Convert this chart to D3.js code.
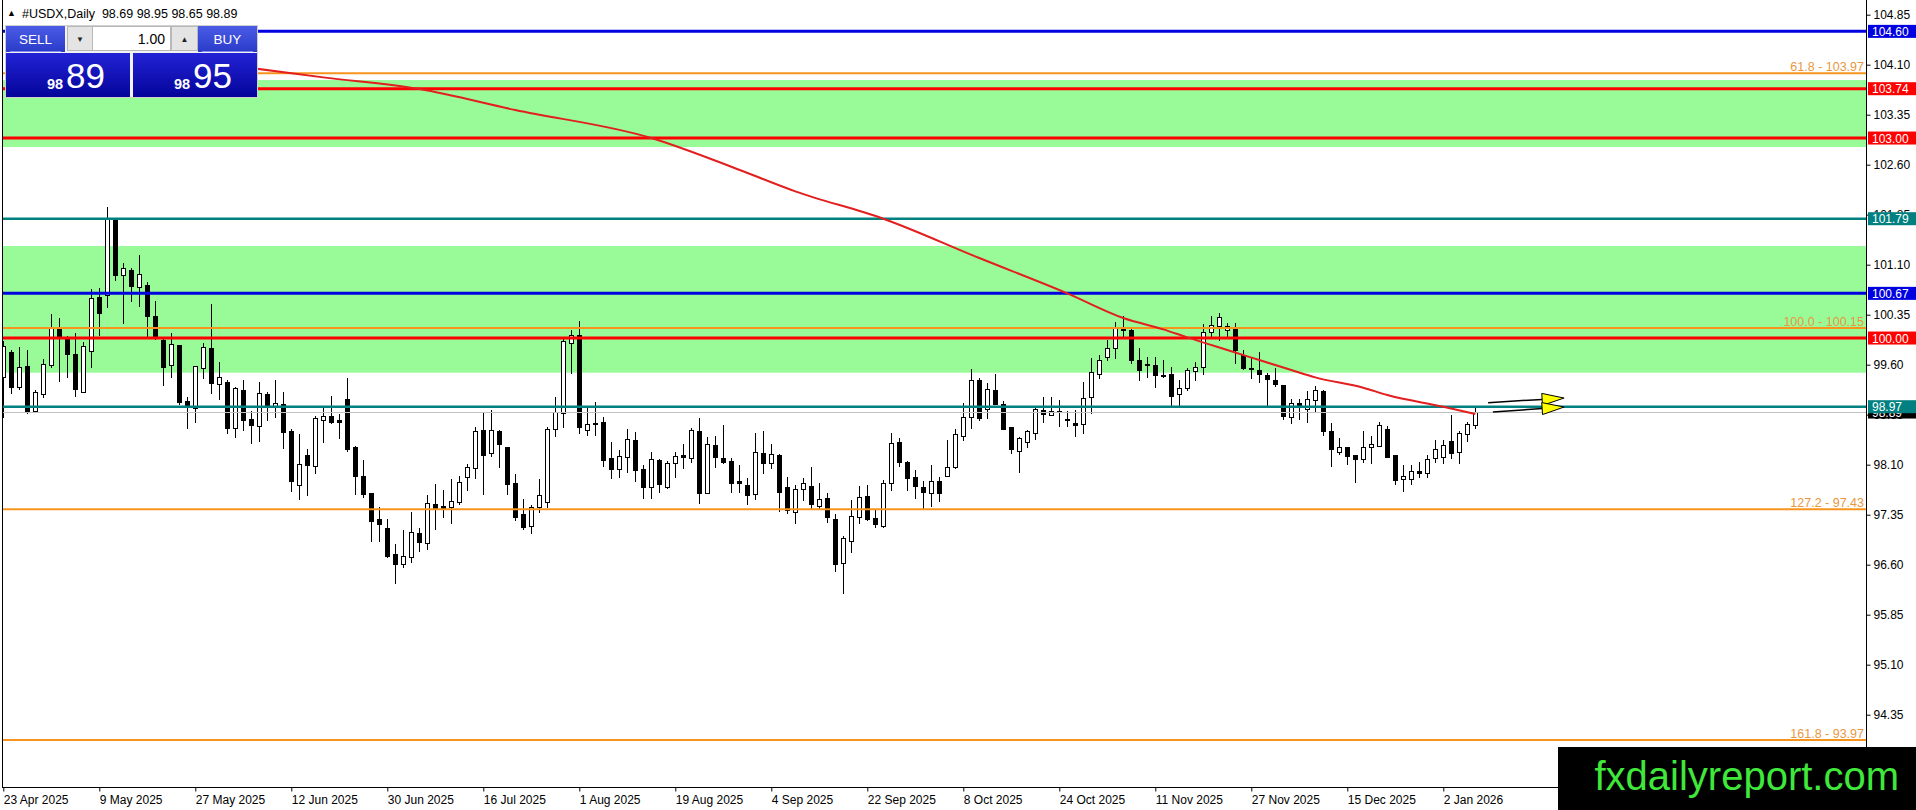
<!DOCTYPE html>
<html lang="en">
<head>
<meta charset="UTF-8">
<title>#USDX,Daily</title>
<script src="https://d3js.org/d3.v7.min.js"></script>
<style>
  html, body { margin: 0; padding: 0; background: #fff; overflow: hidden; }
  svg { display: block; font-family: "Liberation Sans", Arial, sans-serif; }
</style>
</head>
<body>
<svg id="chart"></svg>
<script>
// ---- data (daily bars, 23 Apr 2025 .. 8 Jan 2026) ----
const opens = [
  99.42, 99.795, 99.26, 99.585, 98.91, 99.155, 99.595, 100.145, 99.98, 99.76,
  99.195, 99.81, 100.62, 100.645, 101.78, 100.94, 101.02, 100.77, 100.795, 100.33,
  99.97, 99.59, 99.895, 99.055, 98.945, 99.545, 99.845, 99.305, 99.335, 98.655,
  99.22, 98.785, 98.685, 99.16, 98.97, 99.01, 98.61, 97.795, 98.245, 98.085,
  98.77, 98.83, 98.77, 99.085, 98.36, 97.93, 97.67, 97.285, 97.145, 96.755,
  96.605, 96.72, 97.07, 96.92, 97.505, 97.48, 97.46, 97.545, 97.92, 98.055,
  98.62, 98.27, 98.605, 98.36, 97.82, 97.36, 97.185, 97.47, 97.545, 98.63,
  98.87, 99.92, 100.05, 98.62, 98.72, 98.735, 98.195, 98.035, 98.21, 98.47,
  98.03, 97.76, 98.17, 97.76, 98.12, 98.245, 98.195, 98.605, 97.67, 98.39,
  98.195, 98.155, 97.85, 97.795, 97.66, 98.27, 98.12, 98.245, 97.76, 97.395,
  97.73, 97.78, 97.485, 97.595, 97.285, 96.62, 96.96, 97.31, 97.63, 97.295,
  97.185, 97.82, 98.44, 98.135, 97.91, 97.76, 97.68, 97.855, 97.935, 98.07,
  98.535, 98.81, 99.37, 98.93, 99.22, 99.01, 98.66, 98.31, 98.445, 98.57,
  98.92, 98.845, 98.91, 98.78, 98.73, 98.705, 99.11, 99.46, 99.72, 99.845,
  100.13, 100.12, 99.67, 99.61, 99.595, 99.445, 99.46, 99.155, 99.245, 99.505,
  99.57, 100.085, 100.18, 100.12, 100.13, 99.745, 99.545, 99.52, 99.445, 99.37,
  99.295, 98.82, 99.02, 98.93, 99.07, 99.21, 98.605, 98.295, 98.37, 98.245,
  98.18, 98.36, 98.385, 98.635, 98.245, 97.88, 97.88, 98.01, 97.98, 98.195,
  98.21, 98.455, 98.295, 98.555, 98.69
];
const highs = [
  99.95, 99.82, 99.87, 99.82, 99.22, 99.68, 100.36, 100.30, 100.03, 100.07,
  99.94, 100.73, 100.745, 101.97, 101.80, 101.13, 101.045, 101.245, 100.845, 100.555,
  99.99, 100.08, 99.90, 99.12, 99.58, 99.93, 100.51, 99.635, 99.37, 99.27,
  99.37, 98.91, 99.335, 99.195, 99.37, 99.185, 98.63, 98.56, 98.335, 98.835,
  98.945, 99.13, 98.86, 99.395, 98.38, 98.17, 97.67, 97.46, 97.285, 96.91,
  97.12, 97.385, 97.145, 97.645, 97.81, 97.72, 97.88, 97.93, 98.11, 98.66,
  98.88, 98.92, 98.62, 98.37, 97.96, 97.58, 97.495, 97.88, 98.66, 99.11,
  100.0, 100.12, 100.25, 98.97, 99.045, 98.82, 98.435, 98.32, 98.635, 98.585,
  98.095, 98.29, 98.18, 98.155, 98.285, 98.41, 98.645, 98.795, 98.51, 98.53,
  98.695, 98.205, 98.095, 97.895, 98.57, 98.605, 98.405, 98.255, 97.91, 97.795,
  97.895, 98.07, 97.82, 97.67, 97.36, 97.03, 97.57, 97.785, 97.795, 97.43,
  97.87, 98.57, 98.495, 98.16, 98.02, 97.855, 98.095, 97.92, 98.47, 98.63,
  99.03, 99.535, 99.395, 99.32, 99.46, 99.055, 98.66, 98.51, 98.62, 98.945,
  99.11, 99.11, 99.07, 98.905, 98.92, 99.335, 99.695, 99.74, 99.97, 100.245,
  100.33, 100.14, 99.845, 99.72, 99.72, 99.67, 99.57, 99.37, 99.545, 99.635,
  100.21, 100.33, 100.37, 100.23, 100.23, 99.82, 99.695, 99.785, 99.48, 99.545,
  99.30, 99.085, 99.085, 99.21, 99.28, 99.22, 98.72, 98.495, 98.37, 98.245,
  98.605, 98.53, 98.745, 98.685, 98.245, 98.095, 98.095, 98.145, 98.245, 98.47,
  98.47, 98.845, 98.61, 98.735, 98.95
];
const lows = [
  98.82, 99.18, 99.24, 98.87, 98.895, 99.11, 99.57, 99.36, 99.42, 99.13,
  99.19, 99.57, 100.045, 100.47, 100.87, 100.23, 100.56, 100.48, 100.01, 99.99,
  99.295, 99.41, 99.01, 98.645, 98.745, 99.395, 99.18, 99.08, 98.57, 98.52,
  98.62, 98.42, 98.45, 98.77, 98.82, 98.35, 97.70, 97.58, 97.645, 97.98,
  98.445, 98.72, 98.505, 98.31, 97.66, 97.61, 96.96, 96.96, 96.72, 96.33,
  96.57, 96.645, 96.81, 96.835, 97.135, 97.31, 97.23, 97.51, 97.72, 97.895,
  97.66, 98.235, 98.06, 97.66, 97.27, 97.135, 97.07, 97.395, 97.46, 98.535,
  98.66, 99.48, 98.57, 98.545, 98.545, 98.085, 97.905, 97.92, 97.995, 97.86,
  97.595, 97.595, 97.695, 97.745, 97.91, 98.045, 98.145, 97.52, 97.67, 98.06,
  98.12, 97.695, 97.695, 97.51, 97.58, 97.97, 98.045, 97.41, 97.38, 97.22,
  97.57, 97.445, 97.445, 97.245, 96.51, 96.18, 96.795, 97.22, 97.27, 97.16,
  97.17, 97.72, 98.08, 97.72, 97.595, 97.455, 97.485, 97.56, 97.935, 98.045,
  98.47, 98.655, 98.77, 98.795, 99.01, 98.63, 98.27, 97.995, 98.36, 98.48,
  98.745, 98.845, 98.685, 98.68, 98.53, 98.58, 98.88, 99.395, 99.67, 99.695,
  99.995, 99.63, 99.37, 99.41, 99.26, 99.41, 98.985, 98.985, 99.22, 99.37,
  99.46, 99.995, 99.97, 100.02, 99.62, 99.53, 99.395, 99.345, 98.98, 99.28,
  98.78, 98.73, 98.78, 98.745, 98.91, 98.545, 98.085, 98.26, 98.105, 97.835,
  98.145, 98.13, 98.385, 98.22, 97.81, 97.71, 97.81, 97.91, 97.91, 98.145,
  98.12, 98.205, 98.12, 98.46, 98.65
];
const closes = [
  99.885, 99.26, 99.56, 98.895, 99.185, 99.61, 100.145, 100.01, 99.76, 99.24,
  99.88, 100.595, 100.38, 101.795, 100.945, 101.045, 100.78, 100.96, 100.33, 100.01,
  99.57, 99.91, 99.045, 98.98, 99.58, 99.865, 99.32, 99.41, 98.645, 99.245,
  98.77, 98.695, 99.17, 98.98, 99.02, 98.595, 97.85, 98.11, 98.095, 98.795,
  98.835, 98.745, 98.735, 98.335, 97.935, 97.66, 97.26, 97.21, 96.73, 96.605,
  96.735, 97.085, 96.945, 97.52, 97.455, 97.455, 97.55, 97.835, 98.07, 98.605,
  98.245, 98.62, 98.41, 97.81, 97.32, 97.17, 97.46, 97.64, 98.63, 98.885,
  99.95, 100.05, 98.66, 98.705, 98.725, 98.17, 98.035, 98.235, 98.48, 98.02,
  97.76, 98.18, 97.805, 98.12, 98.235, 98.21, 98.62, 97.68, 98.405, 98.21,
  98.145, 97.83, 97.82, 97.645, 98.285, 98.12, 98.255, 97.695, 97.42, 97.73,
  97.82, 97.505, 97.58, 97.32, 96.605, 96.995, 97.33, 97.61, 97.28, 97.205,
  97.83, 98.42, 98.145, 97.905, 97.785, 97.695, 97.855, 97.67, 98.06, 98.56,
  98.81, 99.37, 98.795, 99.235, 99.01, 98.63, 98.33, 98.505, 98.605, 98.93,
  98.86, 98.905, 98.905, 98.78, 98.695, 99.095, 99.485, 99.67, 99.845, 100.145,
  100.13, 99.67, 99.52, 99.61, 99.445, 99.445, 99.135, 99.245, 99.52, 99.57,
  100.095, 100.195, 100.31, 100.18, 99.82, 99.545, 99.53, 99.46, 99.38, 99.31,
  98.835, 99.02, 98.97, 99.085, 99.22, 98.61, 98.33, 98.36, 98.235, 98.18,
  98.37, 98.41, 98.695, 98.22, 97.87, 97.93, 98.01, 97.97, 98.18, 98.335,
  98.395, 98.28, 98.57, 98.71, 98.89
];

// one date label every 12 bars, starting at bar 0
const dateLabels = [
  "23 Apr 2025", "9 May 2025", "27 May 2025", "12 Jun 2025", "30 Jun 2025", "16 Jul 2025",
  "1 Aug 2025", "19 Aug 2025", "4 Sep 2025", "22 Sep 2025", "8 Oct 2025", "24 Oct 2025",
  "11 Nov 2025", "27 Nov 2025", "15 Dec 2025", "2 Jan 2026"
];
const labelStep = 12;

const priceTicks = [104.85, 104.10, 103.35, 102.60, 101.85, 101.10, 100.35, 99.60,
                    98.85, 98.10, 97.35, 96.60, 95.85, 95.10, 94.35];

// moving average readings: [bar, price]
const maPoints = [
  [31, 104.05], [40, 103.91], [52, 103.735], [64, 103.42], [81, 103.0], [91, 102.57],
  [99, 102.2], [110, 101.79], [122, 101.2], [133, 100.67], [140, 100.3], [145, 100.13],
  [148, 100.01], [153, 99.82], [157, 99.67], [161, 99.52], [164, 99.41], [170, 99.255],
  [173, 99.145], [180, 98.97], [184, 98.86]
];

// support / resistance lines
const srPrices = [104.60, 103.74, 103.00, 101.79, 100.67, 100.00, 98.97];
const srKinds  = ["blue", "red", "red", "teal", "blue", "red", "teal"];

// fibonacci levels
const fibRatios = ["61.8", "100.0", "127.2", "161.8"];
const fibPrices = [103.97, 100.15, 97.43, 93.97];

// shaded zones
const zoneTops    = [103.87, 101.38];
const zoneBottoms = [102.865, 99.48];

const symbolName = "#USDX,Daily";
const lastBar = [98.69, 98.95, 98.65, 98.89];
const bidPrice = 98.89;
const askPrice = 98.95;
const lotSize = "1.00";

// drawn arrows: tail [bar, price] -> tip [bar, price]
const arrowTails = [[185.6, 99.03], [186.2, 98.89]];
const arrowTips  = [[195.1, 99.10], [195.1, 98.965]];

// ---- layout ----
const W = 1916, H = 810;
const plotLeft = 2, plotRight = 1866, plotBottom = 787;

const kindColor = { blue: "#0000e0", red: "#ff0000", teal: "#008080" };
const fibColor = "#f7941d", fibText = "#e9973f";

const svg = d3.select("#chart")
  .attr("width", W).attr("height", H)
  .attr("viewBox", [0, 0, W, H]);

const x = d3.scaleLinear().domain([0, opens.length - 1]).range([3.3, 3.3 + 8 * (opens.length - 1)]);
const y = d3.scaleLinear().domain([94.35, 104.85]).range([714.7, 14.7]);

svg.append("rect").attr("width", W).attr("height", H).attr("fill", "#fff");

const defs = svg.append("defs");
defs.append("clipPath").attr("id", "plotClip")
  .append("rect").attr("x", plotLeft).attr("y", 0)
  .attr("width", plotRight - plotLeft).attr("height", plotBottom);

const grad = (id, c1, c2) => {
  const g = defs.append("linearGradient").attr("id", id)
    .attr("x1", 0).attr("y1", 0).attr("x2", 0).attr("y2", 1);
  g.append("stop").attr("offset", "0%").attr("stop-color", c1);
  g.append("stop").attr("offset", "100%").attr("stop-color", c2);
};
grad("btnGrad", "#4a5ce6", "#2a3bc9");
grad("priceGrad", "#2323d6", "#04049a");

const plot = svg.append("g").attr("clip-path", "url(#plotClip)");

// zones
plot.append("g").selectAll("rect")
  .data(zoneTops.map((t, i) => [t, zoneBottoms[i]]))
  .join("rect")
  .attr("x", plotLeft).attr("width", plotRight - plotLeft)
  .attr("y", d => y(d[0])).attr("height", d => y(d[1]) - y(d[0]))
  .attr("fill", "#98fb98");

// candles
const bars = d3.range(opens.length).map(i => ({ i, o: opens[i], h: highs[i], l: lows[i], c: closes[i] }));
const cg = plot.append("g").attr("shape-rendering", "crispEdges");
const px = i => Math.round(x(i));

cg.selectAll("line.wick").data(bars).join("line")
  .attr("class", "wick")
  .attr("x1", d => px(d.i) + 0.5).attr("x2", d => px(d.i) + 0.5)
  .attr("y1", d => Math.round(y(d.h))).attr("y2", d => Math.round(y(d.l)) + 1)
  .attr("stroke", "#000").attr("stroke-width", 1);

cg.selectAll("rect.body").data(bars).join("rect")
  .attr("class", "body")
  .attr("x", d => px(d.i) - 1.5)
  .attr("width", 4)
  .attr("y", d => Math.round(y(Math.max(d.o, d.c))) + 0.5)
  .attr("height", d => Math.max(1, Math.round(y(Math.min(d.o, d.c))) - Math.round(y(Math.max(d.o, d.c)))))
  .attr("fill", d => d.c >= d.o ? "#fff" : "#000")
  .attr("stroke", "#000").attr("stroke-width", 1);

// bid line
plot.append("line")
  .attr("x1", plotLeft).attr("x2", plotRight)
  .attr("y1", Math.round(y(bidPrice)) + 0.5).attr("y2", Math.round(y(bidPrice)) + 0.5)
  .attr("stroke", "#c0c0c0").attr("stroke-width", 1);

// fibonacci lines + texts
const fg = plot.append("g");
fg.selectAll("line").data(fibPrices).join("line")
  .attr("x1", plotLeft).attr("x2", plotRight)
  .attr("y1", d => y(d)).attr("y2", d => y(d))
  .attr("stroke", fibColor).attr("stroke-width", 2);
fg.selectAll("text").data(fibPrices).join("text")
  .attr("x", plotRight - 2).attr("y", d => y(d) - 2.5)
  .attr("text-anchor", "end").attr("font-size", 12.5)
  .attr("fill", fibText)
  .text((d, i) => `${fibRatios[i]} - ${d.toFixed(2)}`);

// support / resistance lines
plot.append("g").selectAll("line").data(srPrices).join("line")
  .attr("x1", plotLeft).attr("x2", plotRight)
  .attr("y1", d => y(d)).attr("y2", d => y(d))
  .attr("stroke", (d, i) => kindColor[srKinds[i]])
  .attr("stroke-width", (d, i) => srKinds[i] === "teal" ? 2.5 : 3);

// moving average
plot.append("path")
  .datum(maPoints)
  .attr("d", d3.line().x(d => x(d[0])).y(d => y(d[1])).curve(d3.curveMonotoneX))
  .attr("fill", "none").attr("stroke", "#e31e1e").attr("stroke-width", 2);

// arrows
const ag = plot.append("g");
arrowTails.forEach((t, i) => {
  const tip = arrowTips[i];
  const x0 = x(t[0]), y0 = y(t[1]), x1 = x(tip[0]), y1 = y(tip[1]);
  const ang = Math.atan2(y1 - y0, x1 - x0);
  const len = 22, half = 6;
  const bx = x1 - len * Math.cos(ang), by = y1 - len * Math.sin(ang);
  ag.append("line").attr("x1", x0).attr("y1", y0).attr("x2", bx).attr("y2", by)
    .attr("stroke", "#000").attr("stroke-width", 1.5);
  const nx = -Math.sin(ang) * half, ny = Math.cos(ang) * half;
  ag.append("path")
    .attr("d", `M${x1},${y1}L${bx + nx},${by + ny}L${bx - nx},${by - ny}Z`)
    .attr("fill", "#ffff00").attr("stroke", "#000").attr("stroke-width", 1);
});

// frame
const frame = svg.append("g").attr("stroke", "#000").attr("stroke-width", 1).attr("shape-rendering", "crispEdges");
frame.append("line").attr("x1", plotLeft + 0.5).attr("x2", plotLeft + 0.5).attr("y1", 0).attr("y2", plotBottom + 0.5);
frame.append("line").attr("x1", plotRight + 0.5).attr("x2", plotRight + 0.5).attr("y1", 0).attr("y2", plotBottom + 0.5);
frame.append("line").attr("x1", plotLeft).attr("x2", plotRight + 1).attr("y1", plotBottom + 0.5).attr("y2", plotBottom + 0.5);

// price axis
svg.append("g")
  .attr("transform", `translate(${plotRight + 0.5},0)`)
  .call(d3.axisRight(y).tickValues(priceTicks).tickSize(4).tickPadding(3).tickFormat(d3.format(".2f")))
  .call(g => g.select(".domain").remove())
  .call(g => g.selectAll("text").attr("font-size", 12).attr("font-family", "Liberation Sans, Arial, sans-serif").attr("fill", "#000"))
  .call(g => g.selectAll("line").attr("stroke", "#000"));

// date axis
svg.append("g")
  .attr("transform", `translate(0,${plotBottom + 0.5})`)
  .call(d3.axisBottom(x).tickValues(d3.range(0, dateLabels.length * labelStep, labelStep))
    .tickSize(4).tickPadding(4).tickFormat(i => dateLabels[i / labelStep]))
  .call(g => g.select(".domain").remove())
  .call(g => g.selectAll("text").attr("font-size", 12).attr("text-anchor", "start")
    .attr("font-family", "Liberation Sans, Arial, sans-serif").attr("fill", "#000"))
  .call(g => g.selectAll("line").attr("stroke", "#000"));

// price tags on the axis
const tagData = [{ v: bidPrice, c: "#000" }]
  .concat(srPrices.map((v, i) => ({ v, c: kindColor[srKinds[i]] })));
const tg = svg.append("g");
tagData.forEach(t => {
  const cy = y(t.v);
  tg.append("rect").attr("x", plotRight + 2).attr("y", cy - 6.5).attr("width", 48).attr("height", 13).attr("fill", t.c);
  tg.append("text").attr("x", plotRight + 6).attr("y", cy + 4.5)
    .attr("font-size", 12).attr("fill", "#fff").text(t.v.toFixed(2));
});

// header
svg.append("text").attr("x", 7).attr("y", 16).attr("font-size", 9).attr("fill", "#000").text("▲");
svg.append("text").attr("x", 22).attr("y", 17.5).attr("font-size", 12.5).attr("fill", "#000")
  .attr("xml:space", "preserve")
  .text(`${symbolName}  ${lastBar.map(v => v.toFixed(2)).join(" ")}`);

// one-click trading panel
const panel = svg.append("g");
panel.append("rect").attr("x", 5.5).attr("y", 25.5).attr("width", 252).attr("height", 72)
  .attr("fill", "#f3f3f3").attr("stroke", "#cfcfcf");
const button = (bx, label) => {
  panel.append("rect").attr("x", bx).attr("y", 26).attr("width", 59).attr("height", 26).attr("fill", "url(#btnGrad)");
  panel.append("line").attr("x1", bx + 4).attr("x2", bx + 55).attr("y1", 51.5).attr("y2", 51.5).attr("stroke", "#8190ee");
  panel.append("text").attr("x", bx + 29.5).attr("y", 43.5).attr("text-anchor", "middle")
    .attr("font-size", 13.5).attr("fill", "#fff").text(label);
};
button(6, "SELL");
button(198, "BUY");
const spin = (bx, w, glyph) => {
  panel.append("rect").attr("x", bx + 0.5).attr("y", 26.5).attr("width", w).attr("height", 24)
    .attr("fill", "#e4e4e4").attr("stroke", "#b8b8b8");
  panel.append("text").attr("x", bx + w / 2 + 0.5).attr("y", 42).attr("text-anchor", "middle")
    .attr("font-size", 8).attr("fill", "#222").text(glyph);
};
spin(67, 25, "▼");
spin(171, 26, "▲");
panel.append("rect").attr("x", 92.5).attr("y", 26.5).attr("width", 78).attr("height", 24)
  .attr("fill", "#fff").attr("stroke", "#b8b8b8");
panel.append("text").attr("x", 165).attr("y", 43.5).attr("text-anchor", "end")
  .attr("font-size", 14).attr("fill", "#000").text(lotSize);

const quote = (bx, price) => {
  const s = price.toFixed(2).split(".");
  panel.append("rect").attr("x", bx).attr("y", 53).attr("width", 124).attr("height", 44).attr("fill", "url(#priceGrad)");
  panel.append("text").attr("x", bx + 41).attr("y", 89).attr("font-size", 14.5).attr("font-weight", "bold")
    .attr("fill", "#fff").text(s[0]);
  panel.append("text").attr("x", bx + 60).attr("y", 87.5).attr("font-size", 35)
    .attr("fill", "#fff").text(s[1]);
};
quote(6, bidPrice);
quote(133, askPrice);

// watermark
svg.append("rect").attr("x", 1558).attr("y", 747).attr("width", W - 1558).attr("height", H - 747).attr("fill", "#000");
svg.append("text").attr("x", 1899).attr("y", 790).attr("text-anchor", "end")
  .attr("font-size", 40).attr("fill", "#3fe83a").text("fxdailyreport.com");
</script>
</body>
</html>
